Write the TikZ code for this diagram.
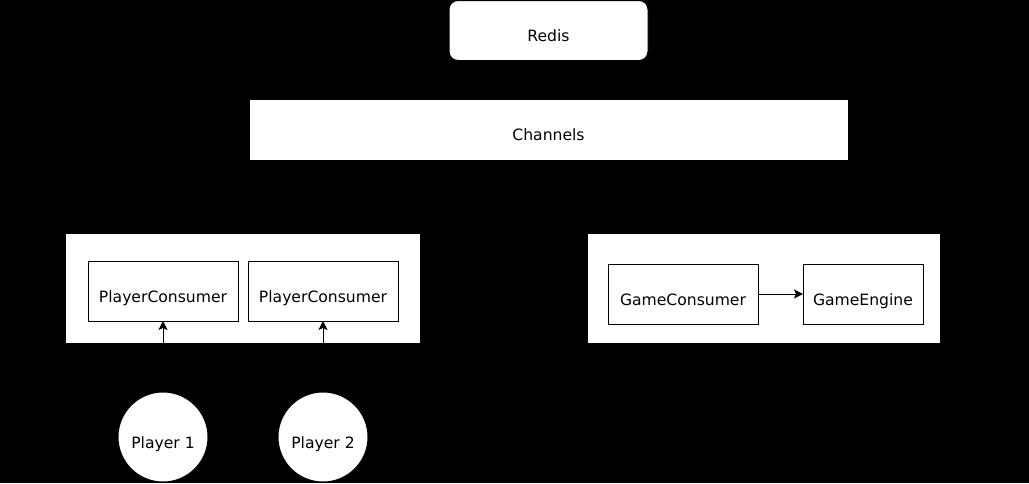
\documentclass[tikz,border=0pt]{standalone}
\usepackage{fontspec}
\setmainfont{DejaVu Sans}
\usetikzlibrary{arrows.meta}

\tikzset{
  box/.style={draw=black, fill=white, line width=1pt, inner sep=0pt, outer sep=0pt,
    minimum width=150pt, minimum height=60pt, text height=26pt, text depth=4pt},
  group/.style={box, minimum height=110pt},
  player/.style={draw=black, fill=white, line width=1pt, circle, inner sep=0pt,
    outer sep=0pt, minimum size=90pt, text height=26pt, text depth=4pt},
  link/.style={draw=black, line width=1pt, -{Stealth[length=9pt, width=9pt, inset=2pt]}},
}

\begin{document}
\begin{tikzpicture}[x=1pt, y=-1pt, font=\fontsize{15.6}{18}\selectfont]

    \useasboundingbox (0,0) rectangle (1029,483);
    \fill[black] (0,0) rectangle (1029,483);

    \node (redis) [box, rounded corners=9pt, minimum width=199pt] at (548.5,30.5) {Redis};
    \node (chan) [box, minimum width=599pt, minimum height=61pt] at (548.5,129.5) {Channels};

    \node (pgroup) [group, minimum width=355pt] at (242.5,288) {};
    \node (ggroup) [group, minimum width=353pt] at (763.5,288) {};

    \node (pc1) [box] at (163,291) {PlayerConsumer};
    \node (pc2) [box] at (323,291) {PlayerConsumer};
    \node (gc) [box] at (683,294) {GameConsumer};
    \node (ge) [box, minimum width=120pt] at (863,294) {GameEngine};

    \node (p1) [player] at (163,437) {Player 1};
    \node (p2) [player] at (323,437) {Player 2};

    \draw[link, {Stealth[length=5pt, width=5pt]}-{Stealth[length=5pt, width=5pt]}] (redis) -- (chan);
    \draw[link] (pgroup.west) -- ++(-30,0) |- (chan.west);
    \draw[link] (ggroup.east) -- ++(30,0) |- (chan.east);
    \draw[link] (p1) -- (pc1);
    \draw[link] (p2) -- (pc2);
    \draw[link] (gc) -- (ge);

\end{tikzpicture}
\end{document}
